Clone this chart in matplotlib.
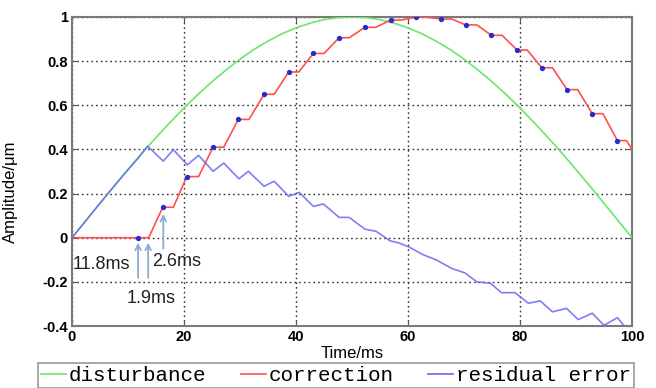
import matplotlib
matplotlib.use("Agg")
import matplotlib.pyplot as plt
from matplotlib.lines import Line2D

# ---- data ----
dist_t = [0, 2.5, 5, 7.5, 10, 12.5, 15, 17.5, 20, 22.5, 25, 27.5, 30, 32.5, 35, 37.5,
          40, 42.5, 45, 47.5, 50, 52.5, 55, 57.5, 60, 62.5, 65, 67.5, 70, 72.5, 75,
          77.5, 80, 82.5, 85, 87.5, 90, 92.5, 95, 97.5, 100]
dist_v = [0.0, 0.078, 0.156, 0.233, 0.309, 0.383, 0.454, 0.522, 0.588, 0.649, 0.707,
          0.760, 0.809, 0.853, 0.891, 0.924, 0.951, 0.972, 0.988, 0.997, 1.0, 0.997,
          0.988, 0.972, 0.951, 0.924, 0.891, 0.853, 0.809, 0.760, 0.707, 0.649, 0.588,
          0.522, 0.454, 0.383, 0.309, 0.233, 0.156, 0.078, 0.0]

corr_t = [0, 11.8, 13.7, 16.2, 18.1, 20.5, 22.6, 25.2, 27.1, 29.7, 31.6, 34.3, 36.1,
          38.7, 40.5, 43.1, 45.0, 47.7, 49.5, 52.3, 54.2, 56.9, 58.7, 61.4, 63.3, 65.9,
          67.8, 70.3, 72.3, 74.9, 76.8, 79.5, 81.3, 83.9, 85.8, 88.4, 90.3, 92.9, 94.8,
          97.4, 99.0, 100]
corr_v = [0, 0, 0, 0.138, 0.138, 0.277, 0.277, 0.41, 0.41, 0.536, 0.536, 0.65, 0.65,
          0.751, 0.751, 0.835, 0.835, 0.906, 0.906, 0.953, 0.953, 0.986, 0.986, 0.999,
          0.999, 0.991, 0.991, 0.964, 0.964, 0.917, 0.917, 0.85, 0.85, 0.77, 0.77,
          0.671, 0.671, 0.562, 0.562, 0.44, 0.44, 0.40]

sample_t = [11.8, 16.2, 20.5, 25.2, 29.7, 34.3, 38.7, 43.1, 47.7, 52.3, 56.9, 61.4,
            65.9, 70.3, 74.9, 79.5, 83.9, 88.4, 92.9, 97.4]
sample_v = [0, 0.138, 0.277, 0.41, 0.536, 0.65, 0.751, 0.835, 0.906, 0.953, 0.986,
            0.999, 0.991, 0.964, 0.917, 0.85, 0.77, 0.671, 0.562, 0.44]

res_t = [0, 5, 9.3, 11.8, 13.5, 16.3, 18.1, 20.6, 22.6, 25.2, 27.1, 29.8, 31.5, 34.3,
         36.1, 38.7, 40.6, 43.1, 44.9, 47.7, 49.5, 52.3, 54.3, 56.8, 58.4, 60.1, 62.7,
         65.1, 67.8, 70.2, 72.3, 74.7, 76.7, 79.1, 81.5, 83.6, 85.8, 88.3, 90.4, 92.9,
         95.0, 97.4, 98.9]
res_v = [0, 0.156, 0.288, 0.36, 0.415, 0.347, 0.399, 0.33, 0.373, 0.301, 0.338, 0.267,
         0.301, 0.233, 0.256, 0.188, 0.205, 0.142, 0.153, 0.092, 0.092, 0.039, 0.029,
         -0.014, -0.024, -0.041, -0.077, -0.101, -0.139, -0.16, -0.2, -0.206, -0.249,
         -0.249, -0.297, -0.286, -0.336, -0.32, -0.371, -0.342, -0.397, -0.362, -0.41]

x_ticks = [0, 20, 40, 60, 80, 100]
y_ticks = [-0.4, -0.2, 0, 0.2, 0.4, 0.6, 0.8, 1]
y_ticklabels = ["-0.4", "-0.2", "0", "0.2", "0.4", "0.6", "0.8", "1"]

# ---- figure ----
plt.rcParams['font.family'] = ['Liberation Sans', 'DejaVu Sans']
fig = plt.figure(figsize=(6.56, 3.88), dpi=100)
ax = fig.add_axes([72/656, 62/388, 560/656, 309/388])

green = '#6ae86a'
red = '#ff4f4f'
blue = '#6868f4'

ax.plot(dist_t, dist_v, color=green, lw=1.2, zorder=3)
ax.plot(corr_t, corr_v, color=red, lw=1.2, zorder=3)
ax.plot(res_t, res_v, color=blue, lw=1.2, alpha=0.85, zorder=4)
ax.plot(sample_t, sample_v, ls='none', marker='o', ms=2.8, color='#2a2ad0', zorder=5)

ax.set_xlim(0, 100)
ax.set_ylim(-0.4, 1)
ax.set_xticks(x_ticks)
ax.set_yticks(y_ticks)
ax.set_yticklabels(y_ticklabels)
for lab in ax.get_xticklabels() + ax.get_yticklabels():
    lab.set_fontweight('bold')
    lab.set_fontsize(10.5)
ax.tick_params(direction='in', length=4, top=True, right=True, pad=3, color='#555555')
ax.grid(True, color='#333333', ls=(0, (1.2, 2.2)), lw=1.0)
for s in ax.spines.values():
    s.set_color('#7a7a7a')
    s.set_linewidth(1.5)

ax.set_xlabel('Time/ms', fontsize=12, labelpad=1)
ax.set_ylabel('Amplitude/\u03bcm', fontsize=12)
ax.yaxis.set_label_coords(-0.096, 0.434)

# annotations
acol = '#8cacd4'
arrow_kw = dict(arrowstyle='->', color=acol, lw=1.3, mutation_scale=10)
ax.annotate('', xy=(11.8, -0.01), xytext=(11.8, -0.195), arrowprops=arrow_kw)
ax.annotate('', xy=(13.6, -0.01), xytext=(13.6, -0.195), arrowprops=arrow_kw)
ax.annotate('', xy=(16.3, 0.12), xytext=(16.3, -0.062), arrowprops=arrow_kw)
ax.text(0.2, -0.12, '11.8ms', fontsize=13, color='#222222', va='center', ha='left')
ax.text(14.3, -0.11, '2.6ms', fontsize=13, color='#222222', va='center', ha='left')
ax.text(9.8, -0.275, '1.9ms', fontsize=13, color='#222222', va='center', ha='left')

# legend
handles = [Line2D([], [], color=green, lw=1.2),
           Line2D([], [], color=red, lw=1.2),
           Line2D([], [], color=blue, lw=1.2)]
leg = fig.legend(handles, ['disturbance', 'correction', 'residual error'],
                 loc='upper left', bbox_to_anchor=(37.5/656, 1 - 363/388),
                 ncol=3, frameon=True, fancybox=False,
                 prop={'family': 'Liberation Mono', 'size': 15},
                 handlelength=1.2, handletextpad=0.15, columnspacing=1.65,
                 borderpad=0.15, borderaxespad=0)
leg.get_frame().set_edgecolor('#808080')
leg.get_frame().set_linewidth(1.2)

fig.savefig('out.png', dpi=100)
